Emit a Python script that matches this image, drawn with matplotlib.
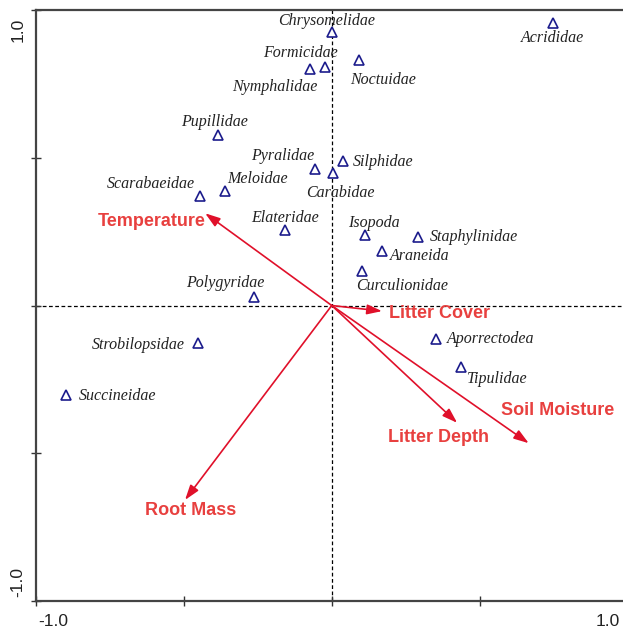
import matplotlib
matplotlib.use("Agg")
import matplotlib.pyplot as plt

# Species scores
species = ["Chrysomelidae", "Acrididae", "Noctuidae", "Formicidae", "Nymphalidae",
           "Pupillidae", "Pyralidae", "Silphidae", "Carabidae", "Meloidae",
           "Scarabaeidae", "Elateridae", "Isopoda", "Staphylinidae", "Araneida",
           "Curculionidae", "Polygyridae", "Strobilopsidae", "Succineidae",
           "Aporrectodea", "Tipulidae"]
sp_x = [0.000, 0.748, 0.091, -0.022, -0.073, -0.385, -0.058, 0.037, 0.003, -0.360,
        -0.445, -0.157, 0.111, 0.292, 0.170, 0.102, -0.262, -0.451, -0.900, 0.353, 0.437]
sp_y = [0.927, 0.955, 0.831, 0.808, 0.799, 0.577, 0.462, 0.489, 0.447, 0.387,
        0.371, 0.256, 0.239, 0.233, 0.186, 0.118, 0.030, -0.128, -0.303, -0.114, -0.207]
# label anchor positions and alignment
lab_x = [-0.019, 0.746, 0.173, -0.107, -0.192, -0.396, -0.165, 0.070, 0.029, -0.250,
         -0.612, -0.157, 0.144, 0.333, 0.198, 0.239, -0.359, -0.498, -0.854, 0.390, 0.457]
lab_y = [0.964, 0.904, 0.763, 0.853, 0.740, 0.620, 0.506, 0.485, 0.380, 0.427,
         0.410, 0.295, 0.280, 0.233, 0.169, 0.067, 0.077, -0.134, -0.305, -0.114, -0.249]
lab_ha = ["center", "center", "center", "center", "center", "center", "center", "left",
          "center", "center", "center", "center", "center", "left", "left", "center",
          "center", "right", "left", "left", "left"]

# Environmental vectors
env = ["Temperature", "Litter Cover", "Litter Depth", "Soil Moisture", "Root Mass"]
env_x = [-0.428, 0.170, 0.424, 0.666, -0.496]
env_y = [0.312, -0.019, -0.397, -0.466, -0.658]
env_lx = [-0.428, 0.192, 0.189, 0.573, -0.631]
env_ly = [0.284, -0.026, -0.447, -0.357, -0.694]
env_ha = ["right", "left", "left", "left", "left"]

W, H = 623, 633
fig = plt.figure(figsize=(W / 100, H / 100), dpi=100)
ax = fig.add_axes([36 / W, 32 / H, (627.5 - 36) / W, (601 - 10) / H])
ax.set_xlim(-1, 1)
ax.set_ylim(-1, 1)

ax.axhline(0, color="black", lw=0.9, ls=(0, (3, 2)), zorder=1)
ax.axvline(0, color="black", lw=0.9, ls=(0, (3, 2)), zorder=1)

ax.plot(sp_x, sp_y, ls="none", marker="^", ms=7.5, mfc="white", mec="#1c1c8c",
        mew=1.2, zorder=4)
for n, x, y, ha in zip(species, lab_x, lab_y, lab_ha):
    ax.text(x, y, n, ha=ha, va="center", fontsize=11.5, fontstyle="italic",
            family="Liberation Serif", color="#222222", zorder=5)

for n, x, y, lx, ly, ha in zip(env, env_x, env_y, env_lx, env_ly, env_ha):
    ax.annotate("", xy=(x, y), xytext=(0, 0),
                arrowprops=dict(arrowstyle="-|>,head_length=0.9,head_width=0.3",
                                color="#e0102a", lw=1.2, shrinkA=0, shrinkB=0),
                zorder=3)
    ax.text(lx, ly, n, ha=ha, va="center", fontsize=13, fontweight="bold",
            family="Liberation Sans", color="#e8403f", zorder=5)

ticks = [-1.0, -0.5, 0.0, 0.5, 1.0]
ax.set_xticks(ticks)
ax.set_yticks(ticks)
ax.set_xticklabels([])
ax.set_yticklabels([])
ax.tick_params(direction="inout", length=7, width=1.0, color="#333333")
for s in ax.spines.values():
    s.set_linewidth(1.6)
    s.set_color("#444444")

# end labels of axes
fs = 12.5
fig.text(38 / W, 1 - 622 / H, "-1.0", ha="left", va="center", fontsize=fs,
         family="Liberation Sans", color="#222222")
fig.text(620 / W, 1 - 622 / H, "1.0", ha="right", va="center", fontsize=fs,
         family="Liberation Sans", color="#222222")
fig.text(18 / W, 1 - 18 / H, "1.0", ha="center", va="top", rotation=90, fontsize=fs,
         family="Liberation Sans", color="#222222")
fig.text(18 / W, 1 - 597 / H, "-1.0", ha="center", va="bottom", rotation=90, fontsize=fs,
         family="Liberation Sans", color="#222222")

fig.savefig("out.png", dpi=100)
